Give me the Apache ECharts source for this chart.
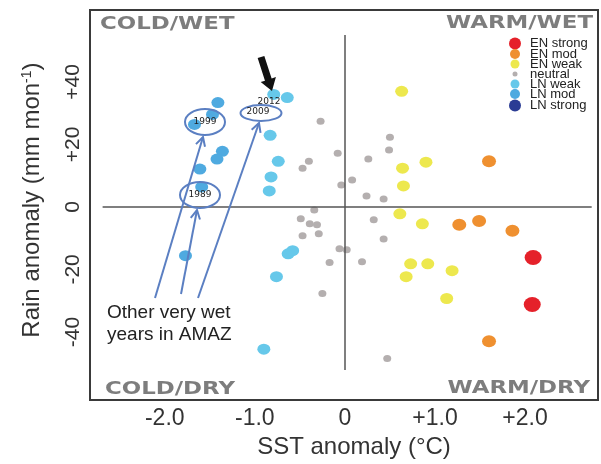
<!DOCTYPE html>
<html><head><meta charset="utf-8">
<script src="https://cdn.jsdelivr.net/npm/echarts@6/dist/echarts.min.js"></script>
<style>html,body{margin:0;padding:0;background:#fff}#c{width:601px;height:464px}</style>
</head><body><div id="c"></div>
<script>
// ---- data (SST anomaly °C, rain anomaly mm/mon) ----
const categories = ['EN strong','EN mod','EN weak','neutral','LN weak','LN mod','LN strong'];
const enStrong = [[2.09,-16.2],[2.08,-31.2]];
const enMod = [[1.6,14.6],[1.27,-5.7],[1.49,-4.5],[1.86,-7.6],[1.6,-43]];
const enWeak = [[0.63,37],[0.64,12.4],[0.9,14.3],[0.65,6.7],[0.61,-2.2],[0.86,-5.4],[0.73,-18.2],[0.92,-18.2],[1.19,-20.4],[0.68,-22.3],[1.13,-29.3]];
const neutral = [[-0.27,27.4],[0.5,22.3],[0.49,18.2],[-0.08,17.2],[-0.4,14.6],[-0.47,12.4],[0.26,15.3],[0.08,8.6],[-0.04,7],[0.24,3.5],[0.43,2.5],[-0.34,-1],[-0.49,-3.8],[-0.39,-5.4],[-0.31,-5.7],[-0.47,-9.2],[-0.29,-8.6],[0.32,-4.1],[0.43,-10.3],[-0.06,-13.4],[0.02,-13.7],[-0.17,-17.8],[0.19,-17.5],[-0.25,-27.7],[0.47,-48.5]];
const lnWeak = [[-0.79,36],[-0.64,35],[-0.83,22.9],[-0.74,14.6],[-0.82,9.6],[-0.84,5.1],[-0.63,-15],[-0.58,-14],[-0.76,-22.3],[-0.9,-45.5]];
const lnMod = [[-1.41,33.4],[-1.47,29.6],[-1.67,26.4],[-1.36,17.8],[-1.42,15.3],[-1.61,12.1],[-1.59,6.4],[-1.77,-15.6]];
const lnStrong = [];
const xTickValues = [-2,-1,0,1,2];
const xTickLabels = ['-2.0','-1.0','0','+1.0','+2.0'];
const yTickValues = [-40,-20,0,20,40];
const yTickLabels = ['-40','-20','0','+20','+40'];
const cornerLabels = ['COLD/WET','WARM/WET','COLD/DRY','WARM/DRY'];
const yearLabels = ['1999','1989','2009','2012'];

// ---- styles ----
const seriesData = [enStrong,enMod,enWeak,neutral,lnWeak,lnMod,lnStrong];
const colors = ['#e5212a','#ef9030','#ede84e','#b4afaf','#66c8ea','#4faae0','#2b3c94'];
const sizes = [[17,15],[14,12],[13,11],[8,7],[13,11],[13,11],[17,15]];
const legendSizes = [12,10,9,5,9,10,12];
const legendRows = [43,53,63,73,83,93,105];
const FONT = '"Liberation Sans", Arial, sans-serif';

const chart = echarts.init(document.getElementById('c'), null, {renderer:'canvas'});

function fmt(vals, labels){
  return function(v){ const i = vals.findIndex(t=>Math.abs(t-v)<1e-6); return i>=0 ? labels[i] : ''; };
}

const series = categories.map((name,i)=>({
  name, type:'scatter', data: seriesData[i], symbol:'circle', symbolSize: sizes[i],
  itemStyle:{color: colors[i], opacity:1}, z: 3,
}));
// zero lines
series.push({
  type:'scatter', data:[], silent:true,
  markLine:{ symbol:'none', silent:true, label:{show:false},
    lineStyle:{color:'#555', width:1.5, type:'solid'},
    data:[
      [{coord:[0,55]},{coord:[0,-52.2]}],
      [{coord:[-2.69,0]},{coord:[2.74,0]}]
    ]}
});

const legends = categories.map((name,i)=>{
  const s = legendSizes[i];
  const h = Math.max(s, 11);
  return {
    data:[name], left: 509 + (12 - s)/2, top: legendRows[i] - h/2, padding:0,
    itemWidth:20, itemHeight: s, itemGap:0, icon:'circle',
    selectedMode:false,
    textStyle:{fontFamily:FONT, fontSize:13, color:'#222', lineHeight:11, padding:0}
  };
});

// annotation graphics
const blue = '#5b7fc2';
function arrowLine(x1,y1,x2,y2){
  const dx=x2-x1, dy=y2-y1, L=Math.hypot(dx,dy), ux=dx/L, uy=dy/L;
  const a=28*Math.PI/180, hl=10;
  const p=(ang)=>[x2-hl*(ux*Math.cos(ang)-uy*Math.sin(ang)), y2-hl*(ux*Math.sin(ang)+uy*Math.cos(ang))];
  return [
    {type:'line', shape:{x1,y1,x2,y2}, style:{stroke:blue, lineWidth:2}, z:10},
    {type:'polyline', shape:{points:[p(a),[x2,y2],p(-a)]}, style:{stroke:blue, lineWidth:2, fill:null}, z:10}
  ];
}
function blackArrow(tx,ty,sx,sy){
  const dx=tx-sx, dy=ty-sy, L=Math.hypot(dx,dy), ux=dx/L, uy=dy/L, nx=-uy, ny=ux;
  const sw=3.5, hw=8, hl=12;
  const bx=tx-ux*hl, by=ty-uy*hl;
  return {type:'polygon', z:10, shape:{points:[
    [sx+nx*sw, sy+ny*sw],[bx+nx*sw,by+ny*sw],[bx+nx*hw,by+ny*hw],[tx,ty],
    [bx-nx*hw,by-ny*hw],[bx-nx*sw,by-ny*sw],[sx-nx*sw,sy-ny*sw]]}, style:{fill:'#111'}};
}
const CFONT = 'bold 18px "DejaVu Sans", sans-serif';
function corner(text,x,y,align){
  return {type:'text', z:10, x, y, scaleX:1.27,
    style:{text, font:CFONT, fill:'#7d7d7d', align, verticalAlign:'middle'}};
}
const graphics = [
  corner(cornerLabels[0],100,24,'left'),
  corner(cornerLabels[1],593,23,'right'),
  corner(cornerLabels[2],105,389,'left'),
  corner(cornerLabels[3],590,388,'right'),
  {type:'ellipse', z:10, shape:{cx:205,cy:122,rx:20,ry:13}, style:{fill:null, stroke:blue, lineWidth:2}},
  {type:'ellipse', z:10, shape:{cx:200,cy:195,rx:20,ry:13}, style:{fill:null, stroke:blue, lineWidth:2}},
  {type:'ellipse', z:10, shape:{cx:261,cy:113,rx:20.5,ry:8}, style:{fill:null, stroke:blue, lineWidth:2}},
  {type:'text', z:11, style:{text:yearLabels[0], x:205, y:122, font:'9px "DejaVu Sans", sans-serif', fill:'#222', align:'center', verticalAlign:'middle'}},
  {type:'text', z:11, style:{text:yearLabels[1], x:200, y:195, font:'9px "DejaVu Sans", sans-serif', fill:'#222', align:'center', verticalAlign:'middle'}},
  {type:'text', z:11, style:{text:yearLabels[2], x:258, y:112, font:'9px "DejaVu Sans", sans-serif', fill:'#222', align:'center', verticalAlign:'middle'}},
  {type:'text', z:11, style:{text:yearLabels[3], x:269, y:102, font:'9px "DejaVu Sans", sans-serif', fill:'#222', align:'center', verticalAlign:'middle'}},
  ...arrowLine(155,298,203,137),
  ...arrowLine(181,294,197,210),
  ...arrowLine(198,298,259,123),
  blackArrow(272,91,261,57),
  {type:'text', z:10, style:{text:'Other very wet\nyears in AMAZ', x:107, y:302, font:'19px '+FONT, lineHeight:22, fill:'#222', align:'left', verticalAlign:'top'}},
];

chart.setOption({
  animation:false,
  backgroundColor:'#fff',
  grid:{left:90, top:10, width:508, height:392, show:true, borderColor:'#3a3a3a', borderWidth:2, backgroundColor:'transparent'},
  xAxis:{type:'value', min:-2.83, max:2.81,
    axisLine:{show:false}, axisTick:{show:false}, splitLine:{show:false},
    axisLabel:{customValues:xTickValues, formatter:fmt(xTickValues,xTickLabels), fontFamily:FONT, fontSize:23, color:'#333', margin:7},
    name:'SST anomaly (°C)', nameLocation:'middle', nameGap:27,
    nameTextStyle:{fontFamily:FONT, fontSize:24, color:'#333', padding:[0,0,0,20]}
  },
  yAxis:{type:'value', min:-61.8, max:63,
    axisLine:{show:false}, axisTick:{show:false}, splitLine:{show:false},
    axisLabel:{customValues:yTickValues, formatter:fmt(yTickValues,yTickLabels), fontFamily:FONT, fontSize:21, color:'#333', margin:6, rotate:90},
    name:'{a|Rain anomaly (mm mon}{s|-1}{a|)}', nameLocation:'middle', nameGap:46,
    nameTextStyle:{fontFamily:FONT, fontSize:24, color:'#333', padding:[0,0,0,10],
      rich:{a:{fontFamily:FONT, fontSize:24, color:'#333'}, s:{fontFamily:FONT, fontSize:14, color:'#333', verticalAlign:'top', padding:[0,0,10,0]}}}
  },
  legend: legends,
  series,
  graphic: graphics
});
</script></body></html>
